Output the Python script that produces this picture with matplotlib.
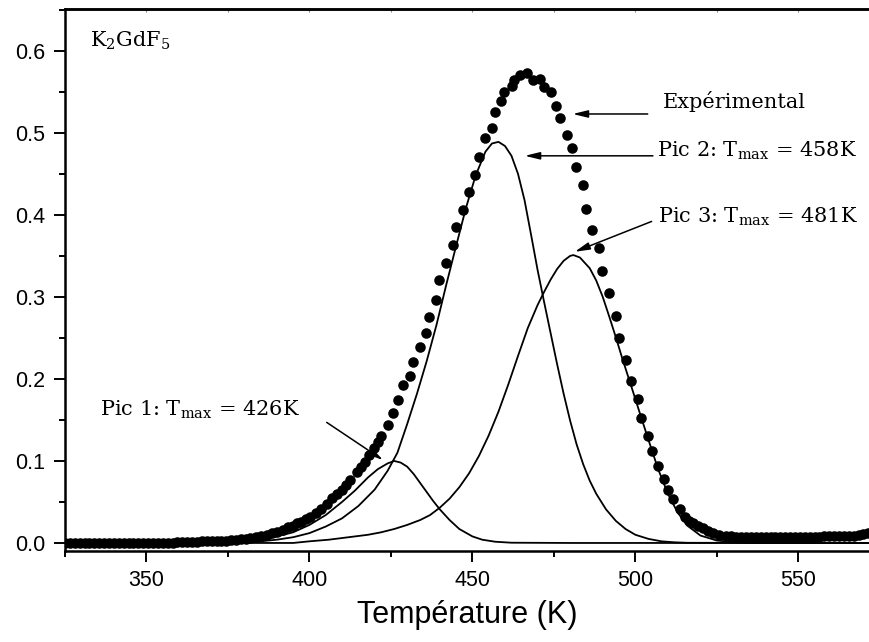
import matplotlib
matplotlib.use('Agg')
import matplotlib.pyplot as plt
from matplotlib.ticker import MultipleLocator, FormatStrFormatter

plt.rcParams['font.family'] = 'Liberation Sans'
plt.rcParams['mathtext.fontset'] = 'dejavuserif'
serif = 'DejaVu Serif'

# experimental glow curve (K, a.u.)
T_exp = [325, 326.5, 328, 329.5, 331, 332.5, 334, 335.5, 337, 338.5, 340, 341.5, 343,
         344.5, 346, 347.5, 349, 350.5, 352, 353.5, 355, 356.5, 358, 359.5, 361, 362.5,
         364, 365.5, 367, 368.5, 370, 371.5, 373, 374.5, 376, 377.5, 379, 380.5,
         381.7, 383.5, 385, 386.9, 388.5, 390, 392, 393.5, 395, 396.1, 397.5, 399, 400.2,
         402, 403.7, 405.3, 406.8, 408.4, 409.9, 411.2, 412.4, 414.5, 415.8, 417, 418.4,
         419.8, 421, 422.1, 424.2, 425.7, 427.2, 428.8, 430.8, 431.8, 433.9, 435.9, 436.7,
         438.8, 439.8, 441.9, 444.0, 445.0, 447.0, 449.0, 450.8, 452.0, 453.9, 455.9,
         456.9, 458.9, 459.8, 462.3, 462.7, 464.6, 466.8, 468.6, 470.9, 471.9, 474.1,
         475.8, 476.8, 478.9, 480.7, 481.7, 483.8, 484.8, 486.7, 488.8, 489.8, 491.9,
         494.0, 494.9, 497.0, 498.7, 500.9, 501.7, 504.0, 505.0, 507.0, 508.7, 509.9,
         511.6, 513.7, 515.2, 516.5, 517.7, 519.2, 520.8, 522.3, 523.8, 525.8, 527.9,
         529.5, 531, 532.5, 534, 535.5, 537, 538.5, 540, 541.5, 543, 544.5, 546, 547.5,
         549, 550.5, 552, 553.5, 555, 556.5, 558, 559.5, 561, 562.5, 564, 565.5, 567,
         568.5, 570, 571.5]
I_exp = [0.000, 0.000, 0.000, 0.000, 0.000, 0.000, 0.000, 0.000, 0.000, 0.000, 0.000,
         0.000, 0.000, 0.000, 0.000, 0.000, 0.000, 0.000, 0.000, 0.000, 0.000, 0.000,
         0.000, 0.001, 0.001, 0.001, 0.001, 0.001, 0.002, 0.002, 0.002, 0.002, 0.003,
         0.003, 0.004, 0.004, 0.005, 0.005,
         0.006, 0.007, 0.008, 0.010, 0.012, 0.013, 0.016, 0.019, 0.021, 0.024, 0.026,
         0.029, 0.032, 0.037, 0.042, 0.048, 0.0545, 0.060, 0.065, 0.071, 0.077, 0.087,
         0.093, 0.099, 0.107, 0.116, 0.123, 0.130, 0.144, 0.159, 0.174, 0.192, 0.203,
         0.221, 0.239, 0.256, 0.276, 0.296, 0.321, 0.341, 0.363, 0.385, 0.406, 0.428,
         0.449, 0.470, 0.494, 0.506, 0.525, 0.539, 0.550, 0.557, 0.565, 0.571, 0.5735,
         0.565, 0.566, 0.556, 0.550, 0.533, 0.518, 0.497, 0.482, 0.458, 0.436, 0.407,
         0.382, 0.360, 0.331, 0.305, 0.277, 0.250, 0.223, 0.198, 0.175, 0.152, 0.130,
         0.112, 0.094, 0.078, 0.065, 0.053, 0.042, 0.032, 0.027, 0.024, 0.021, 0.018,
         0.015, 0.012, 0.010, 0.0085,
         0.008, 0.007, 0.007, 0.007, 0.007, 0.007, 0.007, 0.007, 0.007, 0.007,
         0.007, 0.007, 0.007, 0.007, 0.007, 0.007, 0.007, 0.007, 0.007, 0.008,
         0.008, 0.008, 0.008, 0.008, 0.009, 0.009, 0.010, 0.011, 0.012]

# fitted peaks
T_p1 = [325, 350, 370, 380, 385, 390, 395, 400, 405, 410, 414, 418, 421, 424, 426, 428,
        430, 432, 434, 436, 438, 440, 443, 446, 450, 453, 457, 462, 480, 572]
I_p1 = [0, 0, 0.001, 0.002, 0.004, 0.008, 0.013, 0.022, 0.034, 0.050, 0.064, 0.080, 0.090,
        0.097, 0.100, 0.098, 0.093, 0.084, 0.073, 0.062, 0.051, 0.041, 0.028, 0.017, 0.008,
        0.004, 0.0015, 0.0003, 0, 0]

T_p2 = [325, 370, 380, 385, 390, 395, 400, 405, 410, 415, 420, 424, 427, 430, 433, 436,
        439, 442, 445, 448, 451, 454, 456, 458, 460, 462, 464, 466, 468, 470, 472, 474,
        476, 478, 480, 482, 484, 486, 488, 491, 494, 497, 500, 504, 508, 512, 516, 572]
I_p2 = [0, 0, 0.001, 0.002, 0.004, 0.007, 0.012, 0.020, 0.030, 0.045, 0.065, 0.088, 0.110,
        0.145, 0.182, 0.222, 0.266, 0.315, 0.362, 0.408, 0.448, 0.477, 0.487, 0.489, 0.484,
        0.472, 0.450, 0.418, 0.376, 0.333, 0.294, 0.256, 0.218, 0.182, 0.149, 0.120, 0.096,
        0.076, 0.060, 0.041, 0.027, 0.017, 0.010, 0.005, 0.002, 0.0008, 0.0002, 0]

T_p3 = [325, 395, 400, 406, 412, 418, 422, 426, 430, 434, 437, 440, 443, 446, 449, 452,
        455, 458, 461, 464, 467, 470, 472, 474, 476, 478, 480, 481, 483, 486, 488, 490,
        492, 494, 496, 499, 501, 504, 507, 510, 513, 516, 520, 525, 530, 535, 572]
I_p3 = [0, 0, 0.002, 0.004, 0.007, 0.010, 0.013, 0.017, 0.022, 0.028, 0.034, 0.043, 0.054,
        0.068, 0.085, 0.106, 0.131, 0.160, 0.193, 0.228, 0.262, 0.290, 0.306, 0.321, 0.334,
        0.344, 0.350, 0.351, 0.348, 0.335, 0.320, 0.300, 0.276, 0.251, 0.225, 0.188, 0.163,
        0.126, 0.090, 0.060, 0.037, 0.021, 0.009, 0.003, 0.001, 0, 0]

tmax = [426, 458, 481]

fig = plt.figure(figsize=(8.69, 6.42), dpi=100)
ax = fig.add_axes([65/869, 1-551/642, 1-65/869, 542/642])

ax.plot(T_exp, I_exp, 'o', color='black', markersize=7.6, markeredgewidth=0)
for T, I in ((T_p1, I_p1), (T_p2, I_p2), (T_p3, I_p3)):
    ax.plot(T, I, color='black', lw=1.3)

ax.set_xlim(325, 571.7)
ax.set_ylim(-0.0098, 0.651)
ax.xaxis.set_major_locator(MultipleLocator(50))
ax.xaxis.set_minor_locator(MultipleLocator(25))
ax.yaxis.set_major_locator(MultipleLocator(0.1))
ax.yaxis.set_minor_locator(MultipleLocator(0.05))
ax.yaxis.set_major_formatter(FormatStrFormatter('%.1f'))
ax.tick_params(which='major', direction='out', length=8, width=1.4, labelsize=15.5, pad=6)
ax.tick_params(which='minor', direction='out', length=4.5, width=1.4)
for s in ('left', 'bottom', 'top'):
    ax.spines[s].set_linewidth(1.8)
ax.spines['right'].set_visible(False)

top = ax.secondary_xaxis('top')
top.xaxis.set_major_locator(MultipleLocator(50))
top.xaxis.set_minor_locator(MultipleLocator(25))
top.tick_params(which='both', direction='in', length=2.5, width=0.8, color='#888888',
                labeltop=False)
top.spines['top'].set_linewidth(1.8)

ax.set_xlabel('Température (K)', fontsize=22, labelpad=6)

ax.text(332.7, 0.605, 'K$_2$GdF$_5$', family=serif, fontsize=15, va='baseline')
ax.text(508.4, 0.530, 'Expérimental', family=serif, fontsize=15, va='baseline')
ax.text(506.6, 0.471, 'Pic 2: T$_\\mathrm{max}$ = %dK' % tmax[1], family=serif,
        fontsize=15, va='baseline')
ax.text(506.9, 0.390, 'Pic 3: T$_\\mathrm{max}$ = %dK' % tmax[2], family=serif,
        fontsize=15, va='baseline')
ax.text(335.7, 0.155, 'Pic 1: T$_\\mathrm{max}$ = %dK' % tmax[0], family=serif,
        fontsize=15, va='baseline')

arrow = dict(arrowstyle='-|>,head_length=0.9,head_width=0.22', color='black', lw=1.1,
             shrinkA=0, shrinkB=0)
ax.annotate('', xy=(480.8, 0.523), xytext=(503.8, 0.523), arrowprops=arrow)
ax.annotate('', xy=(466.1, 0.472), xytext=(505.4, 0.472), arrowprops=arrow)
ax.annotate('', xy=(481.4, 0.355), xytext=(505.0, 0.392), arrowprops=arrow)
ax.annotate('', xy=(422.6, 0.101), xytext=(405.3, 0.147), arrowprops=arrow)

fig.savefig('out.png', dpi=100)
